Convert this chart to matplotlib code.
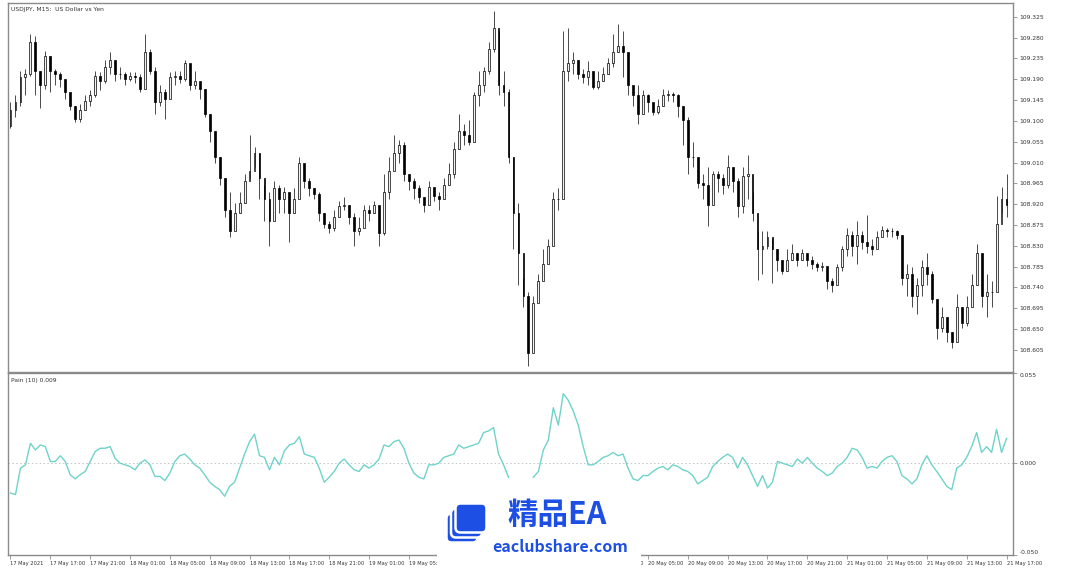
import numpy as np
import matplotlib
matplotlib.use("Agg")
import matplotlib.pyplot as plt
from matplotlib.patches import Rectangle, FancyBboxPatch

# USDJPY M30-ish candles (17 May 13:00 -> 21 May 17:00)
first_open = 109.090
closes = [
    109.124, 109.140, 109.194, 109.201, 109.271, 109.209, 109.178, 109.240, 109.209, 109.201,
    109.190, 109.163, 109.132, 109.105, 109.124, 109.143, 109.155, 109.198, 109.186, 109.217,
    109.232, 109.201, 109.201, 109.190, 109.198, 109.194, 109.170, 109.248, 109.209, 109.140,
    109.163, 109.147, 109.194, 109.198, 109.190, 109.225, 109.178, 109.186, 109.170, 109.116,
    109.078, 109.023, 108.977, 108.907, 108.861, 108.900, 108.923, 108.969, 108.992, 109.031,
    108.977, 108.931, 108.884, 108.954, 108.931, 108.946, 108.900, 108.931, 109.008, 108.969,
    108.954, 108.942, 108.900, 108.876, 108.869, 108.892, 108.915, 108.919, 108.892, 108.861,
    108.869, 108.907, 108.900, 108.919, 108.857, 108.946, 108.992, 109.031, 109.047, 108.985,
    108.969, 108.954, 108.935, 108.919, 108.958, 108.938, 108.931, 108.962, 108.985, 109.039,
    109.078, 109.070, 109.054, 109.155, 109.178, 109.209, 109.256, 109.302, 109.178, 109.163,
    109.023, 108.900, 108.814, 108.722, 108.598, 108.706, 108.753, 108.791, 108.830, 108.931,
    108.931, 109.209, 109.225, 109.232, 109.201, 109.194, 109.209, 109.174, 109.186, 109.201,
    109.225, 109.248, 109.263, 109.248, 109.178, 109.155, 109.116, 109.155, 109.140, 109.120,
    109.132, 109.155, 109.159, 109.155, 109.132, 109.101, 109.023, 109.023, 108.965, 108.962,
    108.919, 108.985, 108.977, 108.962, 109.000, 108.969, 108.915, 108.981, 108.985, 108.900,
    108.822, 108.830, 108.849, 108.822, 108.799, 108.776, 108.799, 108.814, 108.799, 108.814,
    108.799, 108.791, 108.784, 108.787, 108.753, 108.745, 108.784, 108.822, 108.853, 108.830,
    108.853, 108.838, 108.830, 108.822, 108.849, 108.865, 108.861, 108.861, 108.853, 108.760,
    108.768, 108.722, 108.745, 108.784, 108.768, 108.714, 108.652, 108.675, 108.644, 108.621,
    108.698, 108.663, 108.698, 108.745, 108.814, 108.722, 108.729, 108.729, 108.876, 108.931,
    108.919,
]
highs = [
    109.140, 109.155, 109.209, 109.213, 109.287, 109.283, 109.209, 109.252, 109.240, 109.213,
    109.205, 109.178, 109.159, 109.132, 109.136, 109.155, 109.167, 109.209, 109.205, 109.232,
    109.248, 109.221, 109.217, 109.205, 109.205, 109.205, 109.201, 109.287, 109.256, 109.217,
    109.178, 109.170, 109.205, 109.209, 109.209, 109.232, 109.221, 109.209, 109.182, 109.170,
    109.116, 109.078, 109.023, 108.977, 108.946, 108.923, 108.946, 108.985, 109.070, 109.043,
    109.031, 108.962, 108.946, 108.969, 108.962, 108.958, 108.923, 108.954, 109.023, 108.992,
    108.977, 108.954, 108.946, 108.900, 108.884, 108.907, 108.927, 108.935, 108.919, 108.900,
    108.892, 108.919, 108.919, 108.927, 108.907, 108.985, 109.023, 109.070, 109.058, 109.054,
    108.985, 108.977, 108.962, 108.935, 108.969, 108.954, 108.946, 108.977, 109.008, 109.054,
    109.116, 109.093, 109.101, 109.163, 109.209, 109.217, 109.271, 109.337, 109.294, 109.209,
    109.170, 109.023, 108.923, 108.760, 108.729, 108.722, 108.768, 108.822, 108.845, 108.946,
    108.954, 109.294, 109.302, 109.248, 109.232, 109.213, 109.229, 109.198, 109.209, 109.217,
    109.236, 109.287, 109.310, 109.294, 109.201, 109.178, 109.178, 109.167, 109.159, 109.132,
    109.147, 109.170, 109.167, 109.163, 109.159, 109.132, 109.109, 109.054, 109.008, 108.985,
    109.000, 108.992, 108.992, 108.985, 109.027, 108.985, 108.977, 109.000, 109.027, 108.946,
    108.861, 108.861, 108.861, 108.845, 108.822, 108.799, 108.822, 108.834, 108.807, 108.822,
    108.811, 108.807, 108.795, 108.795, 108.784, 108.760, 108.791, 108.830, 108.869, 108.861,
    108.884, 108.861, 108.896, 108.845, 108.861, 108.872, 108.869, 108.869, 108.865, 108.853,
    108.791, 108.784, 108.760, 108.799, 108.814, 108.776, 108.714, 108.698, 108.675, 108.644,
    108.725, 108.691, 108.722, 108.768, 108.834, 108.776, 108.768, 108.753, 108.938, 108.958,
    108.985,
]
lows = [
    109.085, 109.109, 109.132, 109.155, 109.198, 109.155, 109.128, 109.170, 109.163, 109.178,
    109.174, 109.147, 109.124, 109.097, 109.097, 109.124, 109.132, 109.151, 109.167, 109.182,
    109.201, 109.186, 109.190, 109.178, 109.186, 109.182, 109.163, 109.232, 109.201, 109.116,
    109.132, 109.105, 109.159, 109.178, 109.182, 109.186, 109.167, 109.170, 109.147, 109.109,
    109.054, 109.008, 108.962, 108.892, 108.849, 108.869, 108.900, 108.923, 108.977, 109.000,
    108.931, 108.884, 108.830, 108.900, 108.900, 108.900, 108.838, 108.900, 108.962, 108.954,
    108.938, 108.931, 108.884, 108.869, 108.857, 108.861, 108.900, 108.907, 108.876, 108.830,
    108.853, 108.884, 108.884, 108.900, 108.830, 108.853, 108.931, 109.000, 109.008, 108.969,
    108.950, 108.931, 108.923, 108.903, 108.923, 108.927, 108.907, 108.931, 108.962, 108.977,
    109.039, 109.047, 109.047, 109.070, 109.132, 109.163, 109.201, 109.248, 109.155, 109.132,
    109.008, 108.822, 108.745, 108.698, 108.571, 108.644, 108.714, 108.768, 108.807, 108.838,
    108.907, 109.163, 109.186, 109.201, 109.190, 109.182, 109.178, 109.170, 109.170, 109.186,
    109.201, 109.217, 109.248, 109.194, 109.155, 109.132, 109.093, 109.132, 109.120, 109.113,
    109.116, 109.132, 109.143, 109.140, 109.109, 109.047, 108.985, 109.000, 108.954, 108.931,
    108.872, 108.954, 108.946, 108.942, 108.954, 108.946, 108.892, 108.900, 108.931, 108.884,
    108.756, 108.768, 108.822, 108.749, 108.776, 108.768, 108.776, 108.799, 108.787, 108.799,
    108.787, 108.780, 108.776, 108.776, 108.737, 108.729, 108.753, 108.776, 108.807, 108.807,
    108.791, 108.822, 108.814, 108.811, 108.830, 108.853, 108.849, 108.849, 108.845, 108.745,
    108.722, 108.698, 108.683, 108.722, 108.745, 108.706, 108.629, 108.644, 108.621, 108.609,
    108.667, 108.652, 108.656, 108.698, 108.745, 108.698, 108.675, 108.698, 108.822, 108.900,
    108.892,
]

# Pain (10) indicator, in thousandths (nan = gap in the line)
nan = float("nan")
pain_milli = [
    -18, -19, -3, -1, 12, 8, 11, 10, 1, 1,
    4.5, 1, -7, -9.5, -7, -5, 1, 7, 9, 9,
    10, 3, 0, -1, -2, -4, 0, 2, -1, -8,
    -8, -10.5, -6, 1, 4.5, 5.5, 2.5, -1, -3, -7,
    -11.5, -14, -16, -20, -14, -11.5, -3, 5.5, 13, 17.5,
    4.5, 3.5, -4, 3.5, -1, 7.5, 11, 12, 16, 5.5,
    4.5, 3.5, -3, -11.5, -8.5, -5, 0, 2.5, -1, -4,
    -5, -1, -3, -1, 2.5, 11, 10, 13, 14, 9,
    0, -6, -8.5, -9.5, -1, -1, 0, 3.5, 4.5, 5.5,
    11, 9, 10, 11, 12, 18.5, 19.5, 21.5, 5.5, -1,
    -8.5, nan, nan, nan, nan, -8.5, -5, 8, 14, 33.5,
    23, 42, 38, 31.5, 23, 10, -1, -1, 1, 3.5,
    4.5, 6.5, 4.5, 5.5, -3, -9.5, -10.5, -7.5, -7.5, -5,
    -3, -2, -4, -1, -2, -4, -5, -7.5, -12.5, -10.5,
    -8.5, -2, 1, 3.5, 5.5, 3.5, -3, 3.5, -1, -7.5,
    -14, -7.5, -15, -11.5, 1, 0, -1, -2, 2.5, 0,
    3.5, 0, -3, -5, -7.5, -6, -2, 0, 3.5, 9,
    8, 3.5, -3, -2, -3, 1, 3.5, 4.5, 1, -7.5,
    -9.5, -12.5, -9.5, -1, 4.5, -1, -5, -9.5, -14, -16,
    -3, -1, 3.5, 10, 18.5, 6.5, 10, 6.5, 20.5, 6.5,
    15,
]

price_ticks = [109.325, 109.280, 109.235, 109.190, 109.145, 109.100, 109.055, 109.010,
               108.965, 108.920, 108.875, 108.830, 108.785, 108.740, 108.695, 108.650, 108.605]
time_labels = ["17 May 2021", "17 May 17:00", "17 May 21:00", "18 May 01:00", "18 May 05:00",
               "18 May 09:00", "18 May 13:00", "18 May 17:00", "18 May 21:00", "19 May 01:00",
               "19 May 05:00", "19 May 09:00", "19 May 13:00", "19 May 17:00", "19 May 21:00",
               "20 May 01:00", "20 May 05:00", "20 May 09:00", "20 May 13:00", "20 May 17:00",
               "20 May 21:00", "21 May 01:00", "21 May 05:00", "21 May 09:00", "21 May 13:00",
               "21 May 17:00"]
bars_per_label = 8

W, H = 1079, 584
fig = plt.figure(figsize=(W / 100, H / 100), dpi=100)
frame = "#8a8a8a"
txt = "#333333"
fs = 4.3
fs_x = 3.7


def px_axes(x0, y0, x1, y1):
    return fig.add_axes([x0 / W, 1 - y1 / H, (x1 - x0) / W, (y1 - y0) / H])


ax = px_axes(8, 3, 1013, 372)
ax2 = px_axes(8, 373, 1013, 555)

c = np.array(closes)
o = np.array([first_open] + closes[:-1])
hi = np.array(highs)
lo = np.array(lows)
x = np.arange(len(c))
up = c >= o

ax.vlines(x, lo, hi, color="#4a4a4a", lw=0.7, zorder=2)
ax.bar(x, np.abs(c - o), bottom=np.minimum(o, c), width=0.38,
       color=np.where(up, "#f2f2f2", "black"), edgecolor="black", lw=0.5, zorder=3)

ax.set_xlim(-0.5, 201.3)
ax.set_ylim(108.557, 109.355)
ax.yaxis.tick_right()
ax.set_yticks(price_ticks)
ax.set_yticklabels([f"{v:.3f}" for v in price_ticks])
ax.tick_params(axis="y", direction="out", length=3, width=0.6, pad=1.5,
               labelsize=fs, colors=frame, labelcolor=txt)
ax.set_xticks([])
for s in ax.spines.values():
    s.set_color(frame)
    s.set_linewidth(1.0)
ax.text(0.003, 0.988, "USDJPY, M15:  US Dollar vs Yen", transform=ax.transAxes,
        fontsize=fs, color=txt, va="top", ha="left")

# indicator window
pain = np.array(pain_milli) / 1000.0
ax2.plot(x, pain, color="#6fd3ca", lw=1.0, zorder=3)
ax2.axhline(0, color="#c4c4c4", lw=0.7, ls=(0, (1.5, 2.5)), zorder=1)
ax2.set_xlim(-0.5, 201.3)
ax2.set_ylim(-0.0555, 0.0545)
ax2.yaxis.tick_right()
ax2.set_yticks([-0.0555, 0.0, 0.0545])
ax2.set_yticklabels(["-0.050", "0.000", "0.055"])
ax2.tick_params(axis="y", direction="out", length=3, width=0.6, pad=1.5,
                labelsize=fs, colors=frame, labelcolor=txt)
ylabs = ax2.get_yticklabels()
ylabs[0].set_va("bottom")
ylabs[2].set_va("top")
tick_pos = np.arange(len(time_labels)) * bars_per_label
ax2.set_xticks(tick_pos)
ax2.set_xticklabels(time_labels, ha="left")
ax2.tick_params(axis="x", direction="out", length=3, width=0.6, pad=1,
                labelsize=fs_x, colors=frame, labelcolor=txt)
for s in ax2.spines.values():
    s.set_color(frame)
    s.set_linewidth(1.0)
ax2.text(0.003, 0.975, "Pain (10) 0.009", transform=ax2.transAxes,
         fontsize=fs, color=txt, va="top", ha="left")

# watermark overlay in pixel coordinates
ov = fig.add_axes([0, 0, 1, 1], zorder=10)
ov.set_xlim(0, W)
ov.set_ylim(H, 0)
ov.axis("off")
ov.patch.set_alpha(0)
ov.add_patch(Rectangle((437, 483), 204, 101, facecolor="white", edgecolor="none"))
blue = "#1d4fe4"
for dx, dy in [(-9, 10), (-4.5, 5), (0, 0)]:
    ov.add_patch(FancyBboxPatch((457 + dx, 505 + dy), 28, 26,
                                boxstyle="round,pad=1.5,rounding_size=5",
                                facecolor=blue, edgecolor="white", lw=1.8))
ov.text(507, 515, "精品EA", fontsize=22, fontweight="bold", color=blue,
        family=["Noto Sans CJK SC", "DejaVu Sans"], ha="left", va="center")
ov.text(492, 547, "eaclubshare.com", fontsize=11.5, fontweight="bold", color=blue,
        family=["Noto Sans CJK SC", "DejaVu Sans"], ha="left", va="center")

fig.savefig("out.png", dpi=100, facecolor="white")
